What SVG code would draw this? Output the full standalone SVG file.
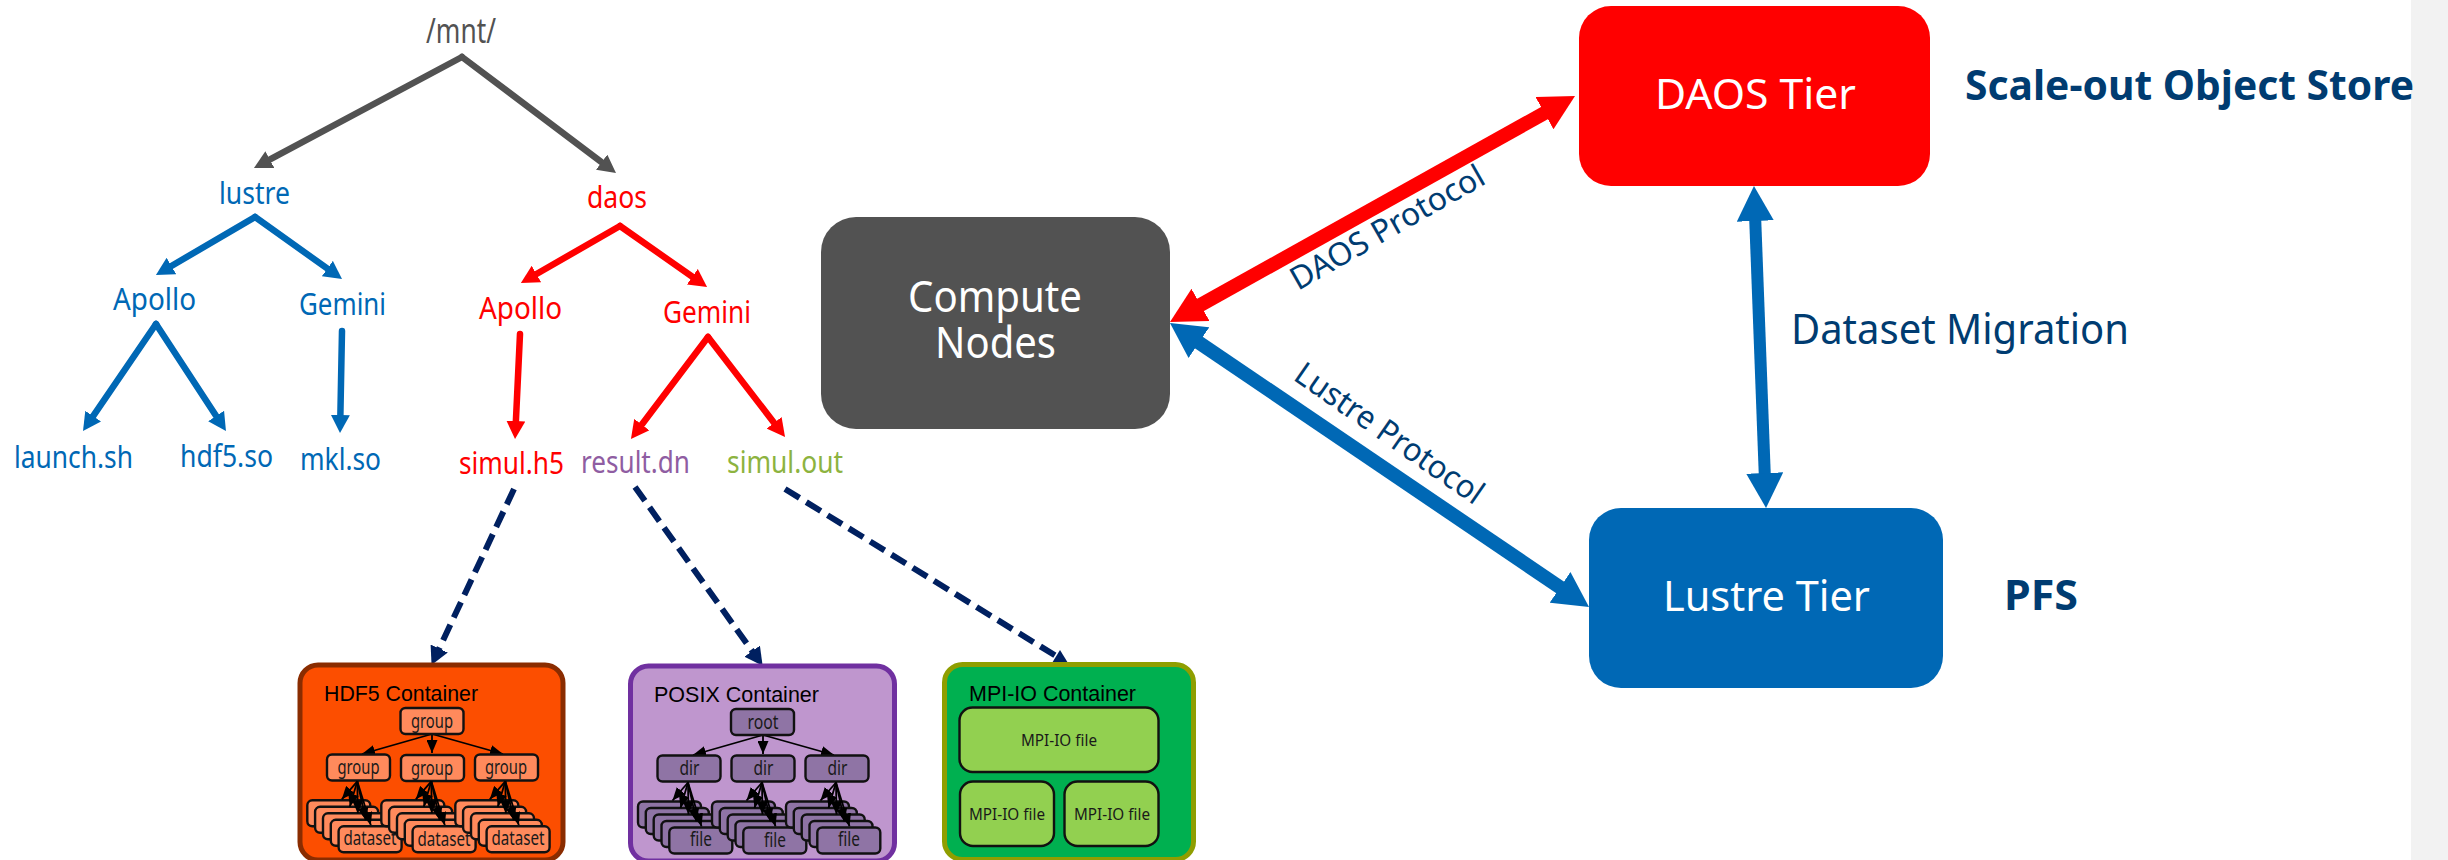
<svg xmlns="http://www.w3.org/2000/svg" xmlns:xlink="http://www.w3.org/1999/xlink" width="2448" height="860" viewBox="0 0 2448 860">
<style>
text{font-family:"Noto Sans","Open Sans",sans-serif}
.t{font-size:30px}
.gray{fill:#525252}.blue{fill:#0068b5}.red{fill:#ff0000}.purple{fill:#8f5da2}.olive{fill:#8db33f}.navy{fill:#003c71}.white{fill:#fff}
.big{font-size:44px}.lab{font-size:41px}.proto{font-size:32px}.bold{font-weight:700}
.l{fill:none;stroke-linecap:round}
.lg{stroke:#525252;stroke-width:6.500;marker-end:url(#hg)}
.lb{stroke:#0068b5;stroke-width:6.500;marker-end:url(#hb)}
.lr{stroke:#ff0000;stroke-width:6.500;marker-end:url(#hr)}
.ld{stroke:#002060;stroke-width:6;stroke-dasharray:17 8;stroke-linecap:butt;marker-end:url(#hd)}
.wr{stroke:#ff0000;stroke-width:14;stroke-linecap:butt;marker-start:url(#wr);marker-end:url(#wr)}
.wb{stroke:#0068b5;stroke-width:14;stroke-linecap:butt;marker-start:url(#wb);marker-end:url(#wb)}
.k{stroke:#000;stroke-width:1.800;fill:none;marker-end:url(#hk)}
.box{stroke:#111;stroke-width:2.400}
.tt{font-family:"Liberation Sans",Arial,sans-serif;font-size:22.500px;fill:#000}
.s{font-size:19px;fill:#1a1a1a}
.m{font-size:17px;fill:#1a1a1a}
.o1{fill:#ff8a5c}.o2{fill:#8f74a5}.o3{fill:#92d050}
</style>
<defs>
<marker id="hg" markerUnits="userSpaceOnUse" markerWidth="18" markerHeight="19" refX="4" refY="9.500" orient="auto"><path d="M0,0L18,9.500L0,19z" fill="#525252"/></marker>
<marker id="hb" markerUnits="userSpaceOnUse" markerWidth="18" markerHeight="19" refX="4" refY="9.500" orient="auto"><path d="M0,0L18,9.500L0,19z" fill="#0068b5"/></marker>
<marker id="hr" markerUnits="userSpaceOnUse" markerWidth="18" markerHeight="19" refX="4" refY="9.500" orient="auto"><path d="M0,0L18,9.500L0,19z" fill="#ff0000"/></marker>
<marker id="hd" markerUnits="userSpaceOnUse" markerWidth="18" markerHeight="19" refX="4" refY="9.500" orient="auto"><path d="M0,0L18,9.500L0,19z" fill="#002060"/></marker>
<marker id="hk" markerUnits="userSpaceOnUse" markerWidth="13" markerHeight="11" refX="13" refY="5.500" orient="auto"><path d="M0,0L13,5.500L0,11z" fill="#000"/></marker>
<marker id="wr" markerUnits="userSpaceOnUse" markerWidth="35" markerHeight="37" refX="2" refY="18.500" orient="auto-start-reverse"><path d="M0,0L35,18.500L0,37z" fill="#ff0000"/></marker>
<marker id="wb" markerUnits="userSpaceOnUse" markerWidth="35" markerHeight="37" refX="2" refY="18.500" orient="auto-start-reverse"><path d="M0,0L35,18.500L0,37z" fill="#0068b5"/></marker>
<g id="stack">
<rect class="box" x="0" y="0" width="63" height="26" rx="5"/>
<rect class="box" x="7.800" y="6.500" width="63" height="26" rx="5"/>
<rect class="box" x="15.700" y="13" width="63" height="26" rx="5"/>
<rect class="box" x="23.500" y="19.500" width="63" height="26" rx="5"/>
<path class="k" d="M50,-19L34.500,-1"/><path class="k" d="M50,-19L42.500,6.500"/><path class="k" d="M50,-19L50.500,13"/><path class="k" d="M50,-19L58.500,20"/><path class="k" d="M50,-19L63.500,25"/>
<rect class="box" x="31.300" y="26" width="63" height="26" rx="5"/>
</g>
</defs>
<rect width="2448" height="860" fill="#fff"/>
<rect id="side-band" x="2411" y="0" width="37" height="860" fill="#f2f2f2"/>

<g id="connectors">
<line class="l lg" x1="462" y1="57" x2="266.300" y2="161.400"/>
<line class="l lg" x1="462" y1="57" x2="604.800" y2="164.600"/>
<line class="l lb" x1="255" y1="217" x2="168" y2="268"/>
<line class="l lb" x1="255" y1="217" x2="330.600" y2="270.900"/>
<line class="l lb" x1="156" y1="324" x2="90.900" y2="419.400"/>
<line class="l lb" x1="156" y1="324" x2="218.300" y2="419.300"/>
<line class="l lb" x1="342" y1="331" x2="340.300" y2="419"/>
<line class="l lr" x1="620" y1="226" x2="533" y2="276"/>
<line class="l lr" x1="620" y1="226" x2="695.600" y2="279"/>
<line class="l lr" x1="520" y1="334" x2="515.700" y2="425"/>
<line class="l lr" x1="708" y1="337" x2="639.400" y2="427.800"/>
<line class="l lr" x1="708" y1="337" x2="776.500" y2="426"/>
<line class="l ld" x1="514" y1="489" x2="437.500" y2="652.200"/>
<line class="l ld" x1="635" y1="487" x2="754.500" y2="654.400"/>
<line class="l" style="stroke:#002060;stroke-width:6;stroke-dasharray:17 8;stroke-linecap:butt" x1="785" y1="489" x2="1056" y2="656"/>
<polygon points="1060,650 1052,663 1068,663" fill="#002060"/>
<line class="l wr" x1="1198.800" y1="305.900" x2="1546.200" y2="112.100"/>
<line class="l wb" x1="1197.300" y1="341.500" x2="1561.700" y2="588.500"/>
<line class="l wb" style="stroke-width:12" x1="1755.200" y1="219" x2="1764.800" y2="475"/>
</g>

<g id="mnt"><text class="gray" x="426" y="43" font-size="34" textLength="70" lengthAdjust="spacingAndGlyphs">/mnt/</text></g>
<g id="lustre"><text class="t blue" x="219" y="204" textLength="71" lengthAdjust="spacingAndGlyphs">lustre</text></g>
<g id="daos"><text class="t red" x="587" y="208" textLength="60" lengthAdjust="spacingAndGlyphs">daos</text></g>
<g id="lustre-apollo"><text class="t blue" x="113" y="310" textLength="83" lengthAdjust="spacingAndGlyphs">Apollo</text></g>
<g id="lustre-gemini"><text class="t blue" x="299" y="315" textLength="87" lengthAdjust="spacingAndGlyphs">Gemini</text></g>
<g id="daos-apollo"><text class="t red" x="479" y="319" textLength="83" lengthAdjust="spacingAndGlyphs">Apollo</text></g>
<g id="daos-gemini"><text class="t red" x="663" y="323" textLength="88" lengthAdjust="spacingAndGlyphs">Gemini</text></g>
<g id="launch"><text class="t blue" x="14" y="468" textLength="119" lengthAdjust="spacingAndGlyphs">launch.sh</text></g>
<g id="hdf5"><text class="t blue" x="180" y="467" textLength="93" lengthAdjust="spacingAndGlyphs">hdf5.so</text></g>
<g id="mkl"><text class="t blue" x="300" y="470" textLength="81" lengthAdjust="spacingAndGlyphs">mkl.so</text></g>
<g id="simul-h5"><text class="t red" x="459" y="474" textLength="105" lengthAdjust="spacingAndGlyphs">simul.h5</text></g>
<g id="result-dn"><text class="t purple" x="581" y="473" textLength="109" lengthAdjust="spacingAndGlyphs">result.dn</text></g>
<g id="simul-out"><text class="t olive" x="727" y="473" textLength="116" lengthAdjust="spacingAndGlyphs">simul.out</text></g>

<g id="hdf5-container">
<rect x="300" y="665" width="263" height="195" rx="18" fill="#fc4e00" stroke="#8a2c00" stroke-width="5"/>
<text class="tt" x="324" y="701" textLength="154" lengthAdjust="spacingAndGlyphs">HDF5 Container</text>
<path class="k" d="M432,734L362,754"/><path class="k" d="M432,734L432,753"/><path class="k" d="M432,734L503,754"/>
<rect class="box o1" x="400.500" y="708" width="63" height="26" rx="5"/>
<text class="s" x="411" y="728" textLength="42" lengthAdjust="spacingAndGlyphs">group</text>
<rect class="box o1" x="327" y="754.500" width="63" height="26" rx="5"/>
<text class="s" x="337.500" y="774" textLength="42" lengthAdjust="spacingAndGlyphs">group</text>
<rect class="box o1" x="401" y="755" width="63" height="26" rx="5"/>
<text class="s" x="411" y="775" textLength="42" lengthAdjust="spacingAndGlyphs">group</text>
<rect class="box o1" x="475" y="754.500" width="63" height="26" rx="5"/>
<text class="s" x="485" y="774" textLength="42" lengthAdjust="spacingAndGlyphs">group</text>
<use class="o1" xlink:href="#stack" href="#stack" x="307.300" y="800.300"/>
<use class="o1" xlink:href="#stack" href="#stack" x="381.300" y="800.300"/>
<use class="o1" xlink:href="#stack" href="#stack" x="455.300" y="800.300"/>
<text class="s" x="343.500" y="845" textLength="53" lengthAdjust="spacingAndGlyphs">dataset</text>
<text class="s" x="417.500" y="846" textLength="53" lengthAdjust="spacingAndGlyphs">dataset</text>
<text class="s" x="491.500" y="845" textLength="53" lengthAdjust="spacingAndGlyphs">dataset</text>
</g>

<g id="posix-container">
<rect x="630.500" y="666" width="264" height="195" rx="18" fill="#bf96ce" stroke="#7030a0" stroke-width="5"/>
<text class="tt" x="654" y="702" textLength="165" lengthAdjust="spacingAndGlyphs">POSIX Container</text>
<path class="k" d="M763,735L693,755"/><path class="k" d="M763,735L763,754"/><path class="k" d="M763,735L834,755"/>
<rect class="box o2" x="731" y="709" width="63" height="26" rx="5"/>
<text class="s" x="747.500" y="729" textLength="31" lengthAdjust="spacingAndGlyphs">root</text>
<rect class="box o2" x="657.500" y="755.500" width="63" height="26" rx="5"/>
<text class="s" x="679.500" y="775" textLength="20" lengthAdjust="spacingAndGlyphs">dir</text>
<rect class="box o2" x="731.500" y="755.500" width="63" height="26" rx="5"/>
<text class="s" x="753.500" y="775" textLength="20" lengthAdjust="spacingAndGlyphs">dir</text>
<rect class="box o2" x="805.500" y="755.500" width="63" height="26" rx="5"/>
<text class="s" x="827.500" y="775" textLength="20" lengthAdjust="spacingAndGlyphs">dir</text>
<use class="o2" xlink:href="#stack" href="#stack" x="638" y="801.500"/>
<use class="o2" xlink:href="#stack" href="#stack" x="712" y="801.500"/>
<use class="o2" xlink:href="#stack" href="#stack" x="786" y="801.500"/>
<text class="s" x="690" y="846" textLength="22" lengthAdjust="spacingAndGlyphs">file</text>
<text class="s" x="764" y="847" textLength="22" lengthAdjust="spacingAndGlyphs">file</text>
<text class="s" x="838" y="846" textLength="22" lengthAdjust="spacingAndGlyphs">file</text>
</g>

<g id="mpi-io-container">
<rect x="944.500" y="664.500" width="249" height="195" rx="18" fill="#00b050" stroke="#8f9e00" stroke-width="5"/>
<text class="tt" x="969" y="701" textLength="167" lengthAdjust="spacingAndGlyphs">MPI-IO Container</text>
<rect class="box o3" x="959.500" y="707.500" width="199" height="64.500" rx="13"/>
<text class="m" x="1021" y="746" textLength="76" lengthAdjust="spacingAndGlyphs">MPI-IO file</text>
<rect class="box o3" x="960" y="781.500" width="94" height="64.500" rx="13"/>
<text class="m" x="969" y="820" textLength="76" lengthAdjust="spacingAndGlyphs">MPI-IO file</text>
<rect class="box o3" x="1064.500" y="781.500" width="94" height="64.500" rx="13"/>
<text class="m" x="1074" y="820" textLength="76" lengthAdjust="spacingAndGlyphs">MPI-IO file</text>
</g>

<g id="compute-nodes">
<rect x="821" y="217" width="349" height="212" rx="35" fill="#525252"/>
<text class="big white" x="908" y="312" textLength="174" lengthAdjust="spacingAndGlyphs">Compute</text>
<text class="big white" x="935" y="358" textLength="121" lengthAdjust="spacingAndGlyphs">Nodes</text>
</g>
<g id="daos-tier">
<rect x="1579" y="6" width="351" height="180" rx="32" fill="#ff0000"/>
<text class="lab white" x="1655" y="109" textLength="201" lengthAdjust="spacingAndGlyphs">DAOS Tier</text>
</g>
<g id="lustre-tier">
<rect x="1589" y="508" width="354" height="180" rx="32" fill="#0068b5"/>
<text class="lab white" x="1663" y="611" textLength="207" lengthAdjust="spacingAndGlyphs">Lustre Tier</text>
</g>
<g id="labels">
<text class="lab bold navy" x="1965" y="100" textLength="449" lengthAdjust="spacingAndGlyphs">Scale-out Object Store</text>
<text class="lab bold navy" x="2004" y="610" textLength="74" lengthAdjust="spacingAndGlyphs">PFS</text>
<text class="lab navy" x="1791" y="344" textLength="338" lengthAdjust="spacingAndGlyphs">Dataset Migration</text>
<text class="proto navy" transform="translate(1298 291) rotate(-29.700)" textLength="218" lengthAdjust="spacingAndGlyphs">DAOS Protocol</text>
<text class="proto navy" transform="translate(1292 379) rotate(34.800)" textLength="222" lengthAdjust="spacingAndGlyphs">Lustre Protocol</text>
</g>
</svg>
